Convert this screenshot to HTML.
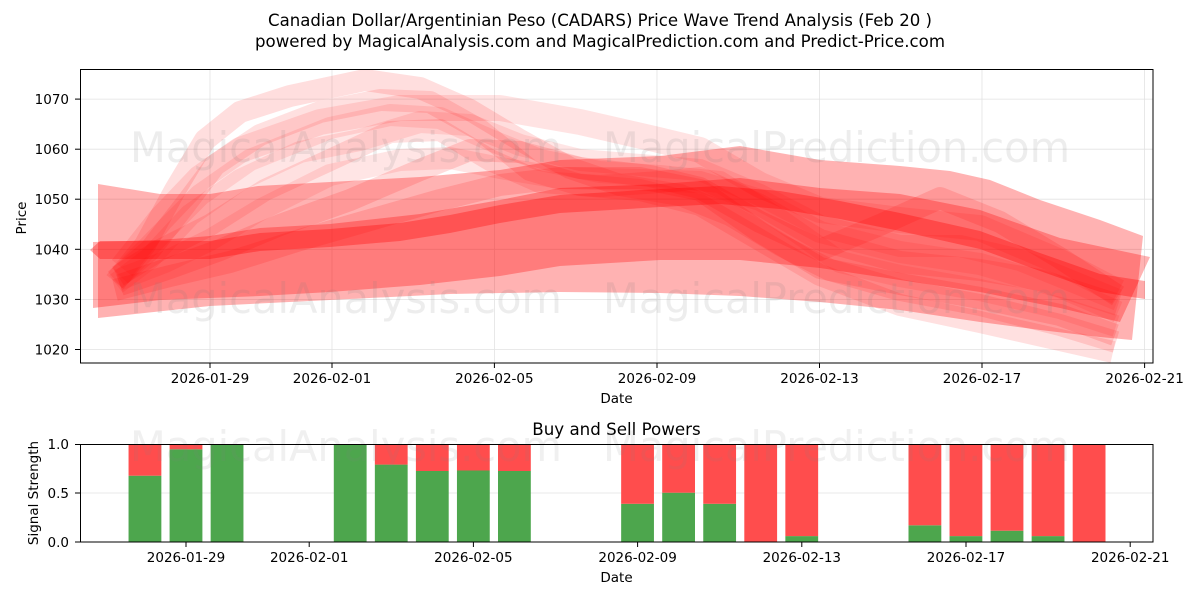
<!DOCTYPE html>
<html><head><meta charset="utf-8"><style>html,body{margin:0;padding:0;background:#fff}svg{display:block}</style></head>
<body>
<svg width="1200" height="600" viewBox="0 0 1200 600" xmlns="http://www.w3.org/2000/svg" font-family="'DejaVu Sans','Liberation Sans',sans-serif">
<rect width="1200" height="600" fill="#fff"/>
<text x="600" y="26" font-size="16.7" text-anchor="middle" textLength="664" lengthAdjust="spacingAndGlyphs">Canadian Dollar/Argentinian Peso (CADARS) Price Wave Trend Analysis (Feb 20 )</text>
<text x="600" y="47" font-size="16.7" text-anchor="middle" textLength="690" lengthAdjust="spacingAndGlyphs">powered by MagicalAnalysis.com and MagicalPrediction.com and Predict-Price.com</text>
<defs><clipPath id="c1"><rect x="80" y="69" width="1073" height="294"/></clipPath></defs>
<g stroke="#e2e2e2" stroke-width="0.8">
<line x1="80" x2="1153" y1="349.5" y2="349.5"/><line x1="80" x2="1153" y1="299.4" y2="299.4"/><line x1="80" x2="1153" y1="249.3" y2="249.3"/><line x1="80" x2="1153" y1="199.2" y2="199.2"/><line x1="80" x2="1153" y1="149.2" y2="149.2"/><line x1="80" x2="1153" y1="99.1" y2="99.1"/>
<line y1="69" y2="363" x1="210" x2="210"/><line y1="69" y2="363" x1="332" x2="332"/><line y1="69" y2="363" x1="494.4" x2="494.4"/><line y1="69" y2="363" x1="657" x2="657"/><line y1="69" y2="363" x1="819.5" x2="819.5"/><line y1="69" y2="363" x1="982" x2="982"/><line y1="69" y2="363" x1="1144.6" x2="1144.6"/>
</g>
<g clip-path="url(#c1)">
<polygon fill="#ff0000" fill-opacity="0.3" points="98,184 160,194 210,194 258,186 330,182 420,177 500,170 560,160 660,156 740,146 820,160 900,166 950,171 990,180 1040,200 1100,220 1143,236 1132,340 1100,337 1040,330 980,322 900,310 820,302 740,296 660,293 560,292 450,294 330,300 210,306 98,318"/>
<polygon fill="#ff0000" fill-opacity="0.3" points="93,242 160,240 210,236 260,228 330,224 420,214 500,200 560,188 660,184 740,178 820,188 900,194 980,210 1060,238 1150,257 1120,322 1060,308 980,292 900,280 820,268 740,260 660,260 560,266 500,276 420,285 330,292 260,296 210,298 160,300 93,308"/>
<polygon fill="#ff0000" fill-opacity="0.33" points="90,250 100,241 160,241 210,241 260,233 330,229 400,223 450,215 500,205 560,195 660,189 720,186 780,191 840,201 900,213 980,231 1040,253 1100,274 1145,281 1145,299 1100,292 1040,271 980,249 900,231 840,219 780,209 720,204 660,207 560,213 500,223 450,233 400,241 330,247 260,251 210,259 160,259 100,259"/>
<g fill="none" stroke="#ff0000" stroke-linejoin="round" stroke-width="22">
<polyline stroke-opacity="0.13" points="115,282 145,245 175,190 205,140 240,112 290,96 365,80 420,88 470,110 520,140 570,168 620,185 680,195 730,215 780,245 830,270 900,290 980,305 1060,325 1116,342"/>
<polyline stroke-opacity="0.12" points="115,280 150,250 185,205 215,165 260,135 320,112 380,100 430,102 480,130 530,170 580,185 640,190 700,205 760,240 820,275 900,305 980,322 1060,340 1113,352"/>
<polyline stroke-opacity="0.11" stroke-width="26" points="122,268 160,220 200,178 240,150 320,122 400,108 500,108 580,122 650,138 700,150 760,185 820,210 900,220 980,228 1060,262 1118,292"/>
<polyline stroke-opacity="0.10" points="120,276 160,235 200,195 250,160 330,128 390,115 440,118 490,140 540,160 600,172 660,176 720,182 780,220 840,262 900,276 980,290 1060,308 1116,326"/>
<polyline stroke-opacity="0.10" points="116,284 150,258 190,215 240,180 300,152 360,140 420,122 470,125 520,145 580,160 640,165 700,170 760,195 820,226 900,246 960,246 1020,260 1118,300"/>
<polyline stroke-opacity="0.12" points="118,276 160,250 210,225 265,190 330,160 390,132 440,130 490,160 540,182 600,186 660,182 700,178 760,205 820,240 900,262 980,270 1040,280 1118,305"/>
<polyline stroke-opacity="0.10" points="118,280 165,262 210,240 260,210 330,175 400,160 450,158 500,168 560,178 640,180 700,182 760,200 820,232 900,252 980,264 1060,287 1118,312"/>
<polyline stroke-opacity="0.14" points="120,285 170,268 220,250 280,225 350,200 420,170 470,150 520,152 580,168 650,176 700,188 760,222 820,250 880,225 940,198 1000,222 1060,258 1118,296"/>
<polyline stroke-opacity="0.14" points="115,290 170,276 230,262 300,240 370,220 440,200 500,185 560,178 640,178 700,190 760,232 820,268 900,284 980,298 1060,315 1115,335"/>
</g>
</g>
<g fill="#808080" fill-opacity="0.14" font-size="41.5">
<text x="130" y="162" textLength="432" lengthAdjust="spacingAndGlyphs">MagicalAnalysis.com</text>
<text x="603" y="162" textLength="467" lengthAdjust="spacingAndGlyphs">MagicalPrediction.com</text>
<text x="130" y="313" textLength="432" lengthAdjust="spacingAndGlyphs">MagicalAnalysis.com</text>
<text x="603" y="313" textLength="467" lengthAdjust="spacingAndGlyphs">MagicalPrediction.com</text>
</g>
<rect x="80.5" y="69.5" width="1072.5" height="293.5" fill="none" stroke="#000" stroke-width="1"/>
<g stroke="#000" stroke-width="1">
<line x1="75" x2="80" y1="349.5" y2="349.5"/><line x1="75" x2="80" y1="299.4" y2="299.4"/><line x1="75" x2="80" y1="249.3" y2="249.3"/><line x1="75" x2="80" y1="199.2" y2="199.2"/><line x1="75" x2="80" y1="149.2" y2="149.2"/><line x1="75" x2="80" y1="99.1" y2="99.1"/>
<line y1="363" y2="368" x1="210" x2="210"/><line y1="363" y2="368" x1="332" x2="332"/><line y1="363" y2="368" x1="494.4" x2="494.4"/><line y1="363" y2="368" x1="657" x2="657"/><line y1="363" y2="368" x1="819.5" x2="819.5"/><line y1="363" y2="368" x1="982" x2="982"/><line y1="363" y2="368" x1="1144.6" x2="1144.6"/>
</g>
<g font-size="13.5" text-anchor="end">
<text x="69" y="354.5">1020</text><text x="69" y="304.4">1030</text><text x="69" y="254.3">1040</text><text x="69" y="204.2">1050</text><text x="69" y="154.2">1060</text><text x="69" y="104.1">1070</text>
</g>
<g font-size="13.5" text-anchor="middle">
<text x="210" y="383">2026-01-29</text><text x="332" y="383">2026-02-01</text><text x="494.4" y="383">2026-02-05</text><text x="657" y="383">2026-02-09</text><text x="819.5" y="383">2026-02-13</text><text x="982" y="383">2026-02-17</text><text x="1144.6" y="383">2026-02-21</text>
<text x="616.5" y="403">Date</text>
<text x="26" y="218" transform="rotate(-90 26 218)">Price</text>
</g>
<text x="616.5" y="435" font-size="16.7" text-anchor="middle">Buy and Sell Powers</text>
<line x1="80" x2="1153" y1="493" y2="493" stroke="#e2e2e2" stroke-width="0.8"/>
<g fill="#4da64d">
<rect x="128.55" y="475.7" width="32.8" height="66.3"/>
<rect x="169.6" y="449.3" width="32.8" height="92.7"/>
<rect x="210.65" y="444" width="32.8" height="98"/>
<rect x="333.8" y="444" width="32.8" height="98"/>
<rect x="374.85" y="464.6" width="32.8" height="77.4"/>
<rect x="415.9" y="471" width="32.8" height="71"/>
<rect x="456.95" y="470.5" width="32.8" height="71.5"/>
<rect x="498" y="471" width="32.8" height="71"/>
<rect x="621.15" y="503.8" width="32.8" height="38.2"/>
<rect x="662.2" y="492.7" width="32.8" height="49.3"/>
<rect x="703.25" y="503.8" width="32.8" height="38.2"/>
<rect x="785.35" y="536.1" width="32.8" height="5.9"/>
<rect x="908.5" y="525.3" width="32.8" height="16.7"/>
<rect x="949.55" y="536.1" width="32.8" height="5.9"/>
<rect x="990.6" y="530.7" width="32.8" height="11.3"/>
<rect x="1031.65" y="536.1" width="32.8" height="5.9"/>
</g>
<g fill="#ff4d4d">
<rect x="128.55" y="444" width="32.8" height="31.7"/>
<rect x="169.6" y="444" width="32.8" height="5.3"/>
<rect x="374.85" y="444" width="32.8" height="20.6"/>
<rect x="415.9" y="444" width="32.8" height="27"/>
<rect x="456.95" y="444" width="32.8" height="26.5"/>
<rect x="498" y="444" width="32.8" height="27"/>
<rect x="621.15" y="444" width="32.8" height="59.8"/>
<rect x="662.2" y="444" width="32.8" height="48.7"/>
<rect x="703.25" y="444" width="32.8" height="59.8"/>
<rect x="744.3" y="444" width="32.8" height="98"/>
<rect x="785.35" y="444" width="32.8" height="92.1"/>
<rect x="908.5" y="444" width="32.8" height="81.3"/>
<rect x="949.55" y="444" width="32.8" height="92.1"/>
<rect x="990.6" y="444" width="32.8" height="86.7"/>
<rect x="1031.65" y="444" width="32.8" height="92.1"/>
<rect x="1072.7" y="444" width="32.8" height="98"/>
</g>
<g fill="#808080" fill-opacity="0.12" font-size="41.5">
<text x="130" y="461" textLength="432" lengthAdjust="spacingAndGlyphs">MagicalAnalysis.com</text>
<text x="603" y="461" textLength="467" lengthAdjust="spacingAndGlyphs">MagicalPrediction.com</text>
</g>
<rect x="80.5" y="444.5" width="1072.5" height="97.5" fill="none" stroke="#000" stroke-width="1"/>
<g stroke="#000" stroke-width="1">
<line x1="75" x2="80" y1="542" y2="542"/><line x1="75" x2="80" y1="493" y2="493"/><line x1="75" x2="80" y1="444.5" y2="444.5"/>
<line y1="542" y2="547" x1="186" x2="186"/><line y1="542" y2="547" x1="309.2" x2="309.2"/><line y1="542" y2="547" x1="473.4" x2="473.4"/><line y1="542" y2="547" x1="637.6" x2="637.6"/><line y1="542" y2="547" x1="801.8" x2="801.8"/><line y1="542" y2="547" x1="966" x2="966"/><line y1="542" y2="547" x1="1130.2" x2="1130.2"/>
</g>
<g font-size="13.5" text-anchor="end">
<text x="69" y="547">0.0</text><text x="69" y="498">0.5</text><text x="69" y="449">1.0</text>
</g>
<g font-size="13.5" text-anchor="middle">
<text x="186" y="562">2026-01-29</text><text x="309.2" y="562">2026-02-01</text><text x="473.4" y="562">2026-02-05</text><text x="637.6" y="562">2026-02-09</text><text x="801.8" y="562">2026-02-13</text><text x="966" y="562">2026-02-17</text><text x="1130.2" y="562">2026-02-21</text>
<text x="616.5" y="582">Date</text>
<text x="38" y="493" transform="rotate(-90 38 493)">Signal Strength</text>
</g>
</svg>
</body></html>
